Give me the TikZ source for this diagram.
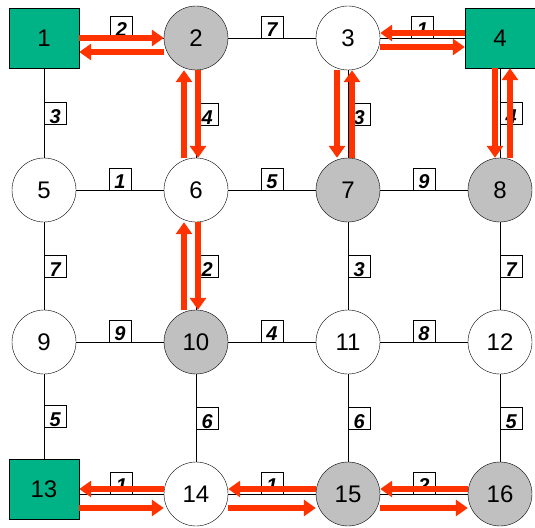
\documentclass[tikz,border=0pt]{standalone}
\usepackage{fontspec}
\setmainfont{Liberation Sans}
\usetikzlibrary{positioning,arrows.meta}
\definecolor{cmgreen}{HTML}{00B386}
\definecolor{cmgray}{HTML}{C0C0C0}
\definecolor{cmred}{HTML}{FF3300}

\begin{document}
\begin{tikzpicture}[
  on grid, node distance=152pt,
  term/.style={draw, fill=cmgreen, minimum width=70pt, minimum height=60pt, inner sep=0pt, font=\fontsize{24}{24}\selectfont},
  vtx/.style={draw, circle, fill=white, minimum size=64pt, inner sep=0pt, font=\fontsize{24}{24}\selectfont},
  busy/.style={vtx, fill=cmgray},
  wt/.style={draw, fill=white, minimum width=22pt, text height=21pt, text depth=1pt, inner sep=0pt, font=\fontsize{20}{20}\selectfont\bfseries\itshape},
  flow/.style={-{Triangle[length=12pt,width=16pt]}, line width=6pt, color=cmred}
]
\useasboundingbox (-44pt,-489pt) rectangle (491pt,38pt);

% nodes
\node[term] (n1) {1};
\node[busy, right=of n1] (n2) {2};
\node[vtx, right=of n2] (n3) {3};
\node[term, right=of n3] (n4) {4};
\node[vtx, below=of n1] (n5) {5};
\node[vtx, below=of n2] (n6) {6};
\node[busy, below=of n3] (n7) {7};
\node[busy, below=of n4] (n8) {8};
\node[vtx, below=of n5] (n9) {9};
\node[busy, below=of n6] (n10) {10};
\node[vtx, below=of n7] (n11) {11};
\node[vtx, below=of n8] (n12) {12};
\node[term, below=of n9, yshift=5pt] (n13) {13};
\node[vtx, below=of n10] (n14) {14};
\node[busy, below=of n11] (n15) {15};
\node[busy, below=of n12] (n16) {16};

% edges with weights
\draw (n1) -- node[wt, anchor=south] {2} (n2);
\draw (n2) -- node[wt, anchor=south] {7} (n3);
\draw (n3) -- node[wt, anchor=south] {1} (n4);
\draw (n5) -- node[wt, anchor=south] {1} (n6);
\draw (n6) -- node[wt, anchor=south] {5} (n7);
\draw (n7) -- node[wt, anchor=south] {9} (n8);
\draw (n9) -- node[wt, anchor=south] {9} (n10);
\draw (n10) -- node[wt, anchor=south] {4} (n11);
\draw (n11) -- node[wt, anchor=south] {8} (n12);
\draw (n13.east |- n14) -- node[wt, anchor=south] {1} (n14);
\draw (n14) -- node[wt, anchor=south] {1} (n15);
\draw (n15) -- node[wt, anchor=south] {2} (n16);
\draw (n1) -- node[wt, anchor=west] {3} (n5);
\draw (n2) -- node[wt, anchor=west] {4} (n6);
\draw (n3) -- node[wt, anchor=west] {3} (n7);
\draw (n4) -- node[wt, anchor=west] {4} (n8);
\draw (n5) -- node[wt, anchor=west] {7} (n9);
\draw (n6) -- node[wt, anchor=west] {2} (n10);
\draw (n7) -- node[wt, anchor=west] {3} (n11);
\draw (n8) -- node[wt, anchor=west] {7} (n12);
\draw (n9) -- node[wt, anchor=west] {5} (n13);
\draw (n10) -- node[wt, anchor=west] {6} (n14);
\draw (n11) -- node[wt, anchor=west] {6} (n15);
\draw (n12) -- node[wt, anchor=west] {5} (n16);

% flows
\draw[flow] (n1.east) -- (n2.west);
\draw[flow] ([yshift=-14pt]n2.west) -- ([yshift=-14pt]n1.east);
\draw[flow] ([yshift=5pt]n4.west) -- ([yshift=5pt]n3.east);
\draw[flow] ([yshift=-9pt]n3.east) -- ([yshift=-9pt]n4.west);
\draw[flow] ([xshift=2pt]n2.south) -- ([xshift=2pt]n6.north);
\draw[flow] ([xshift=-12pt]n6.north) -- ([xshift=-12pt]n2.south);
\draw[flow] ([xshift=2pt]n6.south) -- ([xshift=2pt]n10.north);
\draw[flow] ([xshift=-12pt]n10.north) -- ([xshift=-12pt]n6.south);
\draw[flow] ([xshift=-11pt]n3.south) -- ([xshift=-11pt]n7.north);
\draw[flow] ([xshift=4pt]n7.north) -- ([xshift=4pt]n3.south);
\draw[flow] ([xshift=-5pt]n4.south) -- ([xshift=-5pt]n8.north);
\draw[flow] ([xshift=10pt]n8.north) -- ([xshift=10pt]n4.south);
\draw[flow] ([yshift=5pt]n14.west) -- (n13.east);
\draw[flow] ([yshift=-19pt]n13.east) -- ([yshift=-14pt]n14.west);
\draw[flow] ([yshift=5pt]n15.west) -- ([yshift=5pt]n14.east);
\draw[flow] ([yshift=-14pt]n14.east) -- ([yshift=-14pt]n15.west);
\draw[flow] ([yshift=5pt]n16.west) -- ([yshift=5pt]n15.east);
\draw[flow] ([yshift=-14pt]n15.east) -- ([yshift=-14pt]n16.west);
\end{tikzpicture}
\end{document}
